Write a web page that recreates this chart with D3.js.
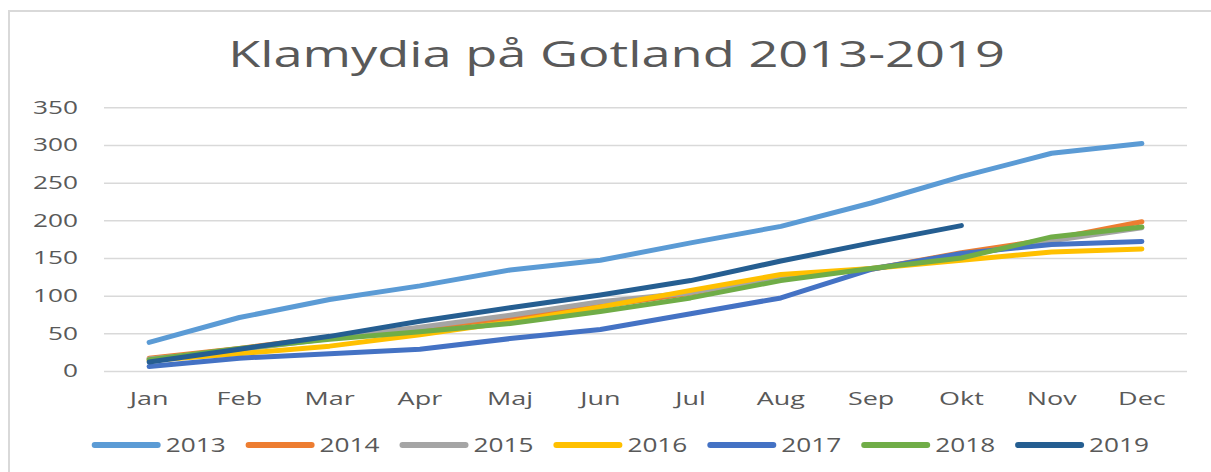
<!DOCTYPE html>
<html>
<head>
<meta charset="utf-8">
<script src="https://cdn.jsdelivr.net/npm/d3@7"></script>
<style>
  body { margin: 0; background: #fff; }
  svg { display: block; font-family: "Open Sans", sans-serif; }
</style>
</head>
<body>
<div id="chart"></div>
<script>
const months = ["Jan", "Feb", "Mar", "Apr", "Maj", "Jun", "Jul", "Aug", "Sep", "Okt", "Nov", "Dec"];
const years = ["2013", "2014", "2015", "2016", "2017", "2018", "2019"];
const yTicks = [0, 50, 100, 150, 200, 250, 300, 350];

const v2013 = [38, 71, 95, 113, 134, 147, 170, 192, 223, 258, 289, 302];
const v2014 = [17, 30, 45, 57, 70, 86, 103, 124, 135, 157, 175, 198];
const v2015 = [16, 28, 43, 58, 74, 92, 104, 124, 136, 153, 173, 190];
const v2016 = [14, 23, 33, 48, 65, 85, 107, 128, 136, 147, 158, 162];
const v2017 = [6, 17, 23, 29, 43, 55, 76, 97, 135, 156, 168, 172];
const v2018 = [15, 30, 42, 52, 63, 79, 97, 120, 136, 150, 178, 191];
const v2019 = [12, 29, 46, 66, 84, 101, 120, 146, 170, 193];

const colors = ["#5B9BD5", "#ED7D31", "#A5A5A5", "#FFC000", "#4472C4", "#70AD47", "#255E91"];

const series = years.map((yr, i) => ({
  name: yr,
  color: colors[i],
  values: [v2013, v2014, v2015, v2016, v2017, v2018, v2019][i]
}));

const W = 1211, H = 472;
const textColor = "#595959";
const gridColor = "#d9d9d9";

const svg = d3.select("#chart").append("svg")
  .attr("width", W)
  .attr("height", H);

// chart area border (runs off the right/bottom edge)
svg.append("rect")
  .attr("x", 9).attr("y", 11)
  .attr("width", 1300).attr("height", 600)
  .attr("fill", "#fff")
  .attr("stroke", gridColor)
  .attr("stroke-width", 2);

const x = d3.scaleBand().domain(months).range([104, 1187]);
const y = d3.scaleLinear().domain([0, 350]).range([371, 107.3]);
const cx = d => x(d) + x.bandwidth() / 2;

// horizontal stretch for text, the reference is wide
function stretch(sel, sx) {
  sel.each(function() {
    const t = d3.select(this);
    const xx = +t.attr("x") || 0;
    t.attr("x", xx / sx).attr("transform", `scale(${sx},1)`);
  });
}

function widthOf(str, size) {
  const t = svg.append("text").attr("font-size", size).text(str);
  const w = t.node().getComputedTextLength();
  t.remove();
  return w;
}

const axisSx = 45 / widthOf("350", 18);

// y axis + gridlines
const yAxis = svg.append("g")
  .attr("transform", "translate(104,0)")
  .call(d3.axisLeft(y).tickValues(yTicks).tickSize(-1083).tickPadding(26));
yAxis.select(".domain").remove();
yAxis.selectAll(".tick line").attr("stroke", gridColor).attr("stroke-width", 1.5);
yAxis.selectAll(".tick text")
  .attr("fill", textColor)
  .attr("font-size", 18)
  .attr("font-family", "Open Sans");
stretch(yAxis.selectAll(".tick text"), axisSx);

// x axis labels
const xAxis = svg.append("g")
  .attr("transform", "translate(0,371)")
  .call(d3.axisBottom(x).tickSize(0));
xAxis.select(".domain").remove();
xAxis.selectAll(".tick text")
  .attr("y", 34)
  .attr("dy", null)
  .attr("fill", textColor)
  .attr("font-size", 18.5)
  .attr("font-family", "Open Sans");
stretch(xAxis.selectAll(".tick text"), axisSx);

// lines
const line = d3.line()
  .x((d, i) => cx(months[i]))
  .y(d => y(d));

svg.append("g")
  .selectAll("path")
  .data(series)
  .join("path")
  .attr("d", d => line(d.values))
  .attr("fill", "none")
  .attr("stroke", d => d.color)
  .attr("stroke-width", 5)
  .attr("stroke-linecap", "round")
  .attr("stroke-linejoin", "round");

// title
const titleSize = 36;
const titleText = "Klamydia på Gotland 2013-2019";
const titleSx = 777 / widthOf(titleText, titleSize);
svg.append("text")
  .attr("x", 616.5)
  .attr("y", 66.7)
  .attr("text-anchor", "middle")
  .attr("font-size", titleSize)
  .attr("fill", textColor)
  .text(titleText)
  .call(stretch, titleSx);

// legend
const legSx = 60 / widthOf("2013", 19.5);
const legend = svg.append("g")
  .selectAll("g")
  .data(series)
  .join("g")
  .attr("transform", (d, i) => `translate(${91.7 + i * 153.9},445)`);

legend.append("line")
  .attr("x1", 3).attr("x2", 66)
  .attr("stroke", d => d.color)
  .attr("stroke-width", 6)
  .attr("stroke-linecap", "round");

legend.append("text")
  .attr("x", 74)
  .attr("y", 6.7)
  .attr("font-size", 19.5)
  .attr("fill", textColor)
  .text(d => d.name)
  .call(stretch, legSx);
</script>
</body>
</html>
